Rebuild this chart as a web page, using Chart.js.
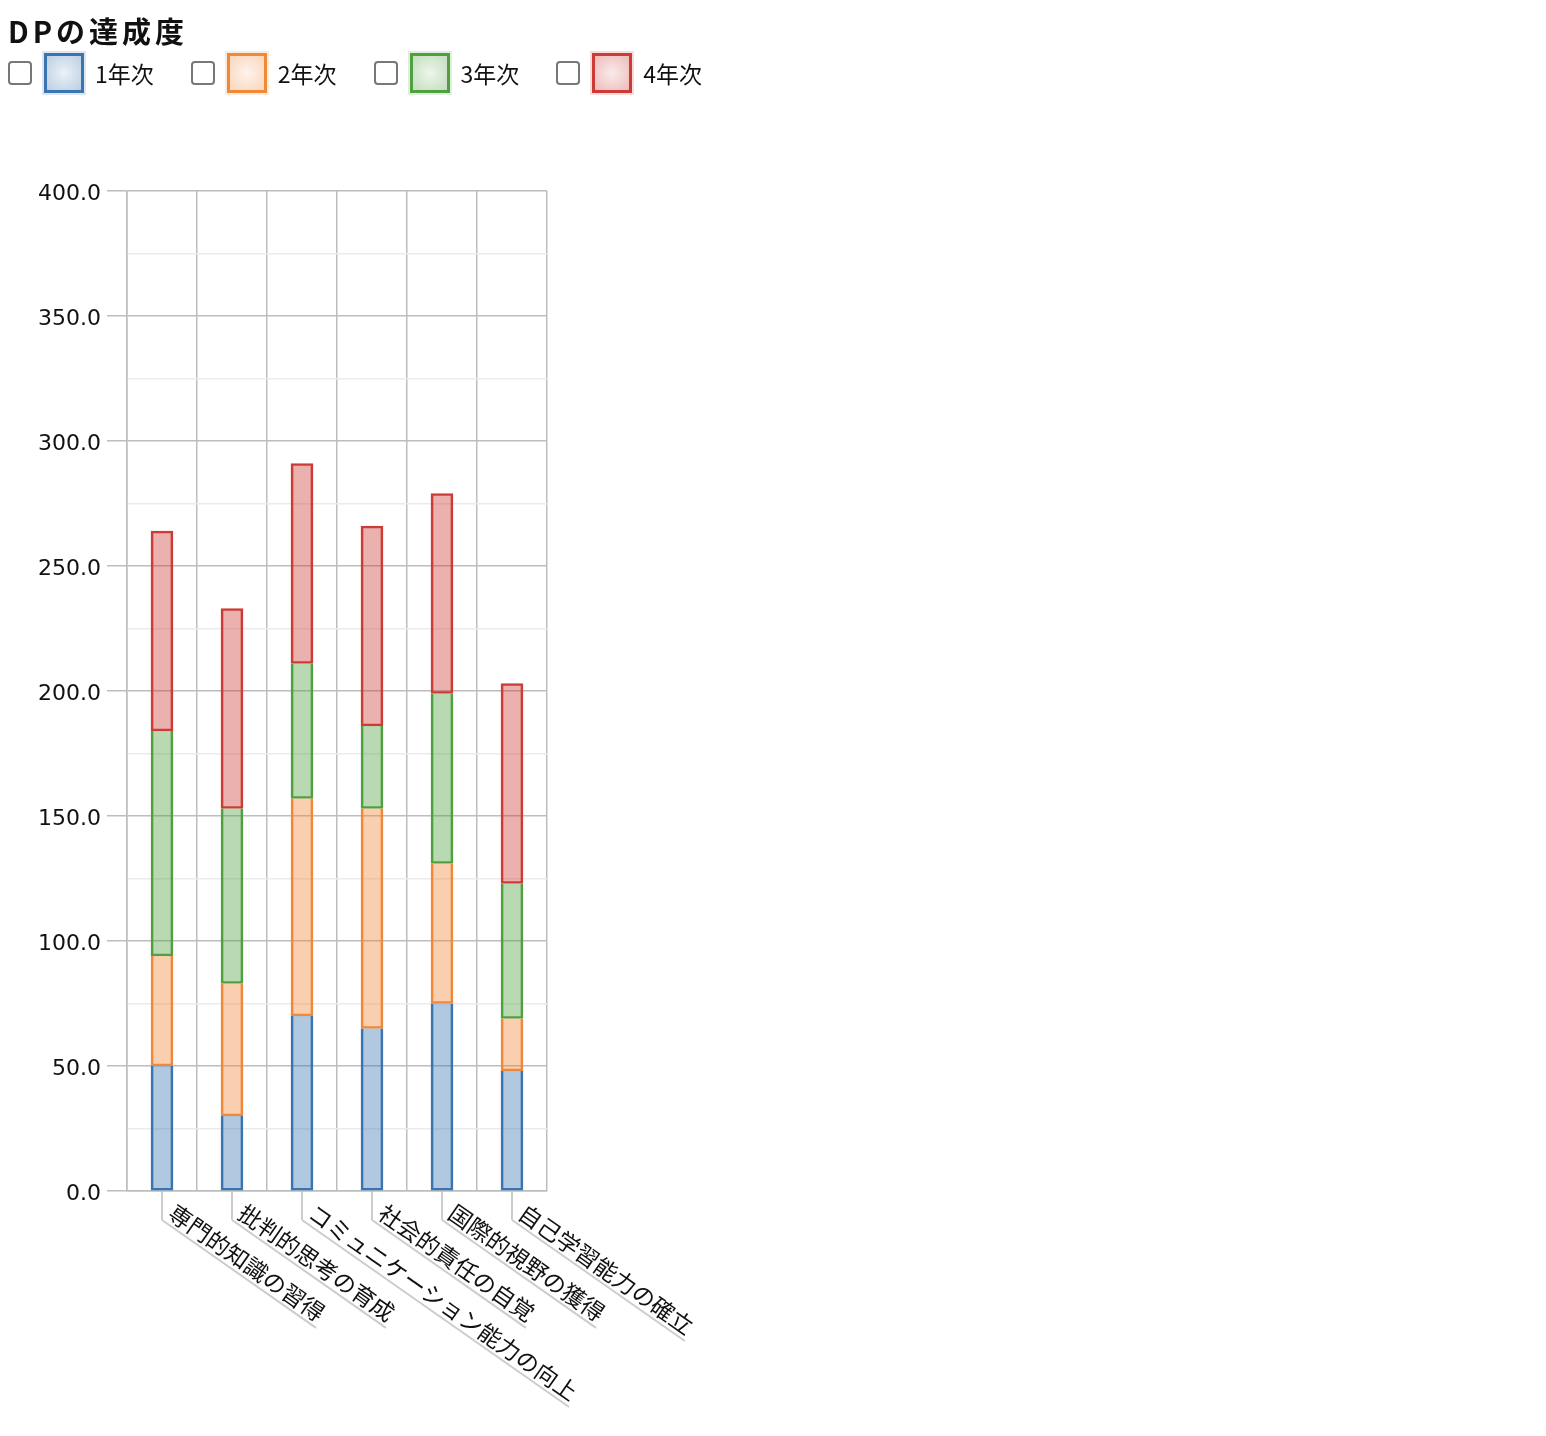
<!DOCTYPE html>
<html lang="ja">
<head>
<meta charset="utf-8">
<title>DPの達成度</title>
<script src="https://cdn.jsdelivr.net/npm/chart.js@4/dist/chart.umd.min.js"></script>
<style>
  body { margin: 0; background: #fff; font-family: "Noto Sans CJK JP", sans-serif; color: #111; }
  #wrap { position: relative; width: 1546px; height: 1436px; }
  #chartBox { position: absolute; left: 0; top: 0; width: 1546px; height: 1436px; }
  #head { position: absolute; left: 8px; top: 12px; z-index: 2; }
  h1 { margin: 0; font-size: 29px; font-weight: bold; letter-spacing: 4px; line-height: 36px; }
  #legend { display: flex; margin-top: 4px; }
  .item { display: flex; align-items: center; height: 42px; margin-right: 37px; }
  .chk { width: 20px; height: 20px; border: 2px solid #777; border-radius: 4px; box-sizing: content-box; }
  .sw { width: 34px; height: 34px; border: 3px solid; margin-left: 12px; }
  .lbl { font-size: 23px; margin-left: 11px; }
</style>
</head>
<body>
<div id="wrap">
  <div id="chartBox"><canvas id="chartDP"></canvas></div>
  <div id="head">
    <h1>DPの達成度</h1>
    <div id="legend"></div>
  </div>
</div>
<script>
const categories = ['専門的知識の習得', '批判的思考の育成', 'コミュニケーション能力の向上', '社会的責任の自覚', '国際的視野の獲得', '自己学習能力の確立'];
const seriesNames = ['1年次', '2年次', '3年次', '4年次'];
const year1 = [50, 30, 70, 65, 75, 48];
const year2 = [44, 53, 87, 88, 56, 21];
const year3 = [90, 70, 54, 33, 68, 54];
const year4 = [80, 80, 80, 80, 80, 80];

const colors = [[58, 117, 177], [240, 136, 58], [80, 160, 64], [204, 59, 53]];
const rgba = (c, a) => `rgba(${c[0]},${c[1]},${c[2]},${a})`;

// legend with checkboxes
const legend = document.getElementById('legend');
seriesNames.forEach((name, i) => {
  const c = colors[i];
  const item = document.createElement('div');
  item.className = 'item';
  item.innerHTML = `<span class="chk"></span>
    <span class="sw" style="border-color:${rgba(c, 1)};background:radial-gradient(circle, ${rgba(c, 0.1)} 0%, ${rgba(c, 0.35)} 100%);box-shadow:0 0 0 2px ${rgba(c, 0.18)}"></span>
    <span class="lbl">${name}</span>`;
  legend.appendChild(item);
});

// x labels drawn rotated, hanging from a tick under each bar
const xLabels = {
  id: 'xLabels',
  afterDraw(chart) {
    const ctx = chart.ctx;
    const xs = chart.scales.x;
    const bottom = chart.chartArea.bottom;
    const angle = 35 * Math.PI / 180;
    ctx.save();
    ctx.font = '23px "Noto Sans CJK JP"';
    categories.forEach((name, i) => {
      const x = xs.getPixelForValue(i);
      ctx.strokeStyle = '#bdbdbd';
      ctx.lineWidth = 1.5;
      ctx.beginPath();
      ctx.moveTo(x, bottom);
      ctx.lineTo(x, bottom + 29);
      ctx.stroke();
      ctx.save();
      ctx.translate(x, bottom + 29);
      ctx.rotate(angle);
      const w = ctx.measureText(name).width;
      ctx.strokeStyle = '#cccccc';
      ctx.lineWidth = 2;
      ctx.beginPath();
      ctx.moveTo(0, 0);
      ctx.lineTo(w + 4, 0);
      ctx.stroke();
      ctx.fillStyle = '#111';
      ctx.textBaseline = 'ideographic';
      ctx.fillText(name, 2, -2);
      ctx.restore();
    });
    ctx.restore();
  }
};

const values = [year1, year2, year3, year4];
const ctx = document.getElementById('chartDP').getContext('2d');

const myChart = new Chart(ctx, {
  type: 'bar',
  data: {
    labels: categories,
    datasets: seriesNames.map((name, i) => ({
      label: name,
      data: values[i],
      backgroundColor: rgba(colors[i], 0.4),
      borderColor: rgba(colors[i], 1),
      borderWidth: 2,
      borderSkipped: i < 3 ? 'top' : false,
      barThickness: 22
    }))
  },
  options: {
    responsive: true,
    maintainAspectRatio: false,
    animation: false,
    layout: {
      padding: { top: 191, right: 999, left: 0, bottom: 0 }
    },
    plugins: {
      legend: { display: false },
      tooltip: { enabled: false }
    },
    scales: {
      x: {
        stacked: true,
        ticks: { display: false },
        grid: { color: '#bdbdbd', lineWidth: 1.5, drawTicks: false, offset: true },
        border: { color: '#bdbdbd', width: 1.5 },
        afterFit(s) { s.height = 245; }
      },
      y: {
        stacked: true,
        min: 0,
        max: 400,
        ticks: {
          stepSize: 25,
          autoSkip: false,
          padding: 6,
          labelOffset: 3,
          color: '#111',
          font: { size: 22, family: '"DejaVu Sans", sans-serif' },
          callback: v => (v % 50 === 0 ? v.toFixed(1) : '')
        },
        grid: {
          lineWidth: 1.5,
          tickLength: 20,
          color: c => (c.tick && c.tick.value % 50 !== 0 ? '#ebebeb' : '#bdbdbd'),
          tickColor: c => (c.tick && c.tick.value % 50 !== 0 ? 'rgba(0,0,0,0)' : '#bdbdbd')
        },
        border: { color: '#bdbdbd', width: 1.5 },
        afterFit(s) { s.width = 127; }
      }
    }
  },
  plugins: [xLabels]
});
</script>
</body>
</html>
